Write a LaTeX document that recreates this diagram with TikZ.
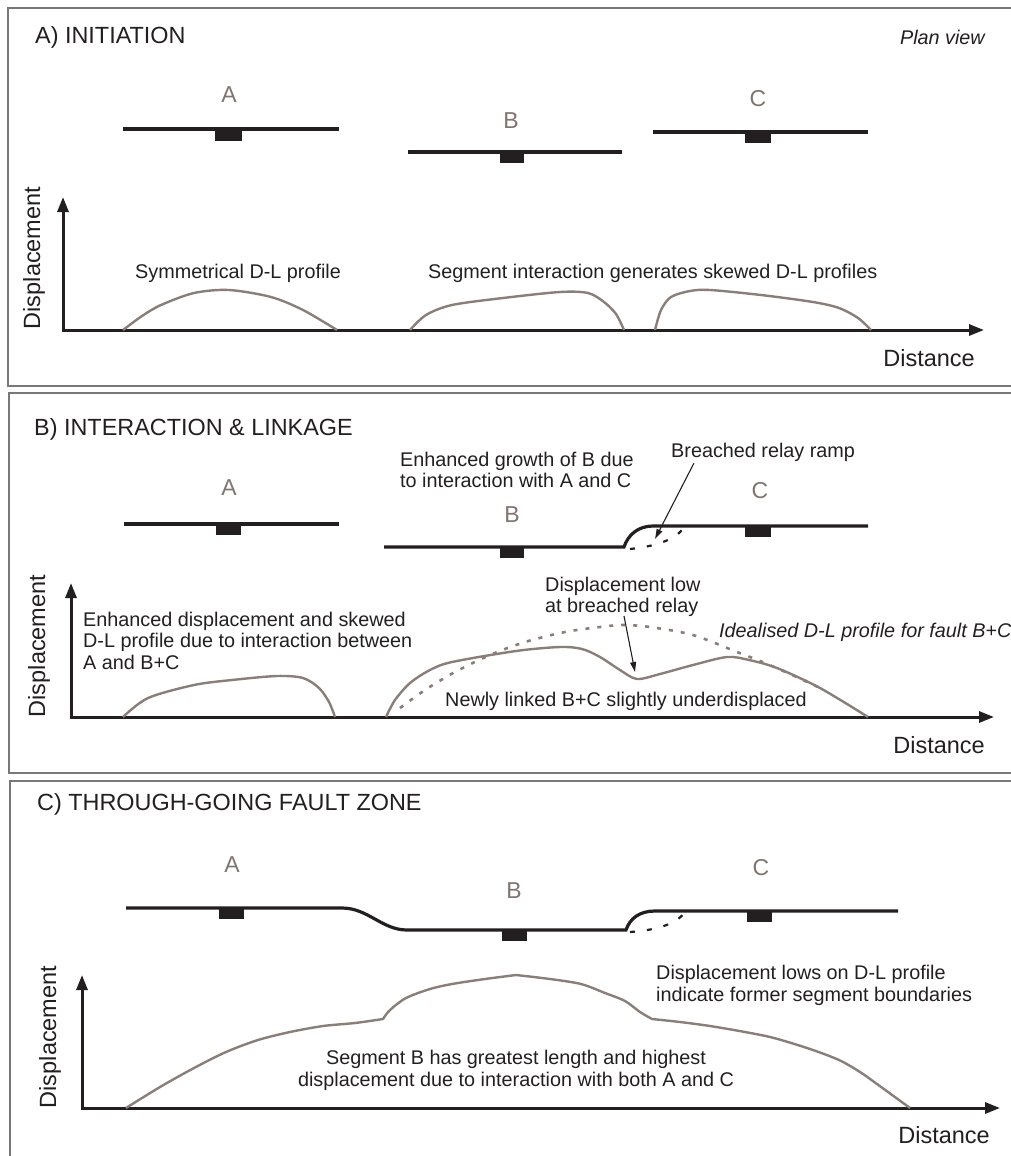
\documentclass[tikz,border=0pt]{standalone}
\usepackage{fontspec}
\setmainfont{Liberation Sans}
\usetikzlibrary{arrows.meta}
\definecolor{ink}{RGB}{35,31,32}
\definecolor{profcol}{RGB}{138,126,121}
\definecolor{segcol}{RGB}{128,116,111}
\definecolor{framecol}{RGB}{120,120,120}
\newcommand{\ttlsize}{\fontsize{23.4}{28}\selectfont}
\newcommand{\axsize}{\fontsize{23.5}{28}\selectfont}
\newcommand{\txtsize}{\fontsize{19.8}{22}\selectfont}
\begin{document}
\begin{tikzpicture}[x=1pt,y=-1pt,font=\txtsize,text=ink,
	panel/.style={draw=framecol,line width=1.5pt},
	fault/.style={draw=ink,line width=3.2pt},
	axis/.style={draw=ink,line width=3pt,{Triangle[length=15pt,width=11pt]}-{Triangle[length=15pt,width=11pt]}},
	prof/.style={draw=profcol,line width=2.4pt,line join=round},
	ideal/.style={draw=profcol,line width=2.6pt,dash pattern=on 4pt off 8pt},
	gap/.style={draw=ink,line width=2.2pt,dash pattern=on 5pt off 12pt},
	note/.style={draw=ink,line width=1.1pt,-{Triangle[length=10pt,width=6pt]}},
	seg/.style={text=segcol,font=\fontsize{23}{27}\selectfont,anchor=base,inner sep=0pt},
	lbl/.style={anchor=base west,inner sep=0pt},
	title/.style={lbl,font=\ttlsize},
	ax/.style={font=\axsize,inner sep=0pt}]
	\useasboundingbox (0,0) rectangle (1011,1156);
	\clip (0,0) rectangle (1011,1156);
	\draw[panel] (8,8) rectangle (1040,386);
	\draw[panel] (9,393) rectangle (1040,773);
	\draw[panel] (10,781) rectangle (1040,1190);

	% A) initiation
	\node[title] (ttlA) at (35,43.5) {A) INITIATION};
	\node[lbl,anchor=base east,font=\txtsize\itshape] (plan) at (985,44.5) {Plan view};
	\node[seg] (segA1) at (229,102) {A};
	\node[seg] (segB1) at (511,128) {B};
	\node[seg] (segC1) at (758,106) {C};
	\draw[fault] (123,129) -- (339,129);
	\draw[fault] (408,152) -- (622,152);
	\draw[fault] (653,132) -- (868,132);
	\fill[ink] (215,129) rectangle (242,141);
	\fill[ink] (500,152) rectangle (524,163);
	\fill[ink] (745,132) rectangle (771,143);
	\draw[axis] (63,197) -- (63,330) -- (984,330);
	\node[ax,rotate=90] (dispA) at (34,258) {Displacement};
	\node[ax,anchor=base east] (distA) at (975,366.5) {Distance};
	\node[lbl] (sym) at (135,278) {Symmetrical D-L profile};
	\node[lbl] (skew) at (428,278) {Segment interaction generates skewed D-L profiles};
	\draw[prof] plot[smooth] coordinates {(123,330) (142,316) (161,305) (194,293) (229,290) (271,297) (303,310) (337,330)};
	\draw[prof] plot[smooth] coordinates {(410,330) (426,315) (452,305) (503,298) (560,292) (588,293) (604,302) (616,314) (624,330)};
	\draw[prof] plot[smooth] coordinates {(655,330) (661,310) (671,297) (690,291) (710,290) (761,295) (813,302) (839,308) (858,318) (871,330)};

	% B) interaction and linkage
	\node[title] (ttlB) at (34,435) {B) INTERACTION \& LINKAGE};
	\node[seg] (segA2) at (229,495) {A};
	\node[seg] (segB2) at (512,522) {B};
	\node[seg] (segC2) at (760,498) {C};
	\draw[fault] (124,524) -- (339,524);
	\draw[fault] (384,547) -- (624,547) .. controls (628,535) and (638,526) .. (653,526) -- (868,526);
	\draw[gap] (630,549) .. controls (660,546) and (680,537) .. (684,526);
	\fill[ink] (216,524) rectangle (241,535);
	\fill[ink] (500,547) rectangle (524,558);
	\fill[ink] (745,526) rectangle (771,537);
	\node[lbl] (grow1) at (400,466) {Enhanced growth of B due};
	\node[lbl] (grow2) at (400,487.5) {to interaction with A and C};
	\node[lbl] (ramp) at (671,457) {Breached relay ramp};
	\coordinate (rampfoot) at (694,463);
	\coordinate (ramptip) at (655,539);
	\draw[note] (rampfoot) -- (ramptip);
	\draw[axis] (71,583) -- (71,717) -- (994,717);
	\node[ax,rotate=90] (dispB) at (39,646) {Displacement};
	\node[ax,anchor=base east] (distB) at (985,753) {Distance};
	\node[lbl] (enh1) at (83,626) {Enhanced displacement and skewed};
	\node[lbl] (enh2) at (83,647.7) {D-L profile due to interaction between};
	\node[lbl] (enh3) at (83,669.4) {A and B+C};
	\node[lbl] (low1) at (545,591) {Displacement low};
	\node[lbl] (low2) at (545,612.5) {at breached relay};
	\node[lbl,font=\txtsize\itshape] (idl) at (719,637) {Idealised D-L profile for fault B+C};
	\node[lbl] (newly) at (445,706) {Newly linked B+C slightly underdisplaced};
	\draw[ideal] plot[smooth] coordinates {(400,708) (425,690) (455,672) (490,655) (525,642) (565,632) (600,627) (623,625) (650,627) (693,635) (737,652) (760,661) (790,674) (820,688)};
	\draw[prof] plot[smooth] coordinates {(123,717) (148,698) (194,685) (232,680) (277,676) (303,678) (319,688) (329,702) (335,717)};
	\draw[prof] plot[smooth] coordinates {(386,717) (395,700) (410,683) (430,670) (452,662) (516,651) (560,647) (582,649) (600,657) (620,670) (637,679) (660,674) (693,665) (727,657) (749,660) (777,668) (820,688) (868,717)};
	\coordinate (lowfoot) at (624,616);
	\coordinate (lowtip) at (635,672);
	\draw[note] (lowfoot) -- (lowtip);

	% C) through-going fault zone
	\node[title] (ttlC) at (37,810) {C) THROUGH-GOING FAULT ZONE};
	\node[seg] (segA3) at (232,872) {A};
	\node[seg] (segB3) at (514,898) {B};
	\node[seg] (segC3) at (761,875) {C};
	\draw[fault] (126,908) -- (342,908) .. controls (368,908) and (382,930) .. (407,930) -- (626,930) .. controls (630,918) and (640,911) .. (655,911) -- (898,911);
	\draw[gap] (630,932) .. controls (660,930) and (680,922) .. (685,911);
	\fill[ink] (219,908) rectangle (244,919);
	\fill[ink] (502,930) rectangle (527,941);
	\fill[ink] (747,911) rectangle (772,922);
	\draw[axis] (82,975) -- (82,1108) -- (1000,1108);
	\node[ax,rotate=90] (dispC) at (50,1037) {Displacement};
	\node[ax,anchor=base east] (distC) at (990,1143) {Distance};
	\node[lbl] (lows1) at (656,979) {Displacement lows on D-L profile};
	\node[lbl] (lows2) at (656,1001) {indicate former segment boundaries};
	\node[lbl,anchor=base] (grt1) at (516,1064) {Segment B has greatest length and highest};
	\node[lbl,anchor=base] (grt2) at (516,1086) {displacement due to interaction with both A and C};
	\draw[prof] plot[smooth] coordinates {(126,1108) (160,1087) (194,1068) (226,1052) (258,1040) (290,1032) (323,1026) (355,1023) (383,1019)}
		-- plot[smooth] coordinates {(383,1019) (390,1010) (406,998) (430,989) (452,984) (485,979) (516,975)}
		-- plot[smooth] coordinates {(516,975) (550,979) (581,984) (605,993) (625,1001) (640,1012) (652,1019)}
		-- plot[smooth] coordinates {(652,1019) (680,1022) (710,1026) (745,1032) (774,1038) (810,1049) (839,1060) (860,1072) (877,1084) (910,1108)};
\end{tikzpicture}
\end{document}
